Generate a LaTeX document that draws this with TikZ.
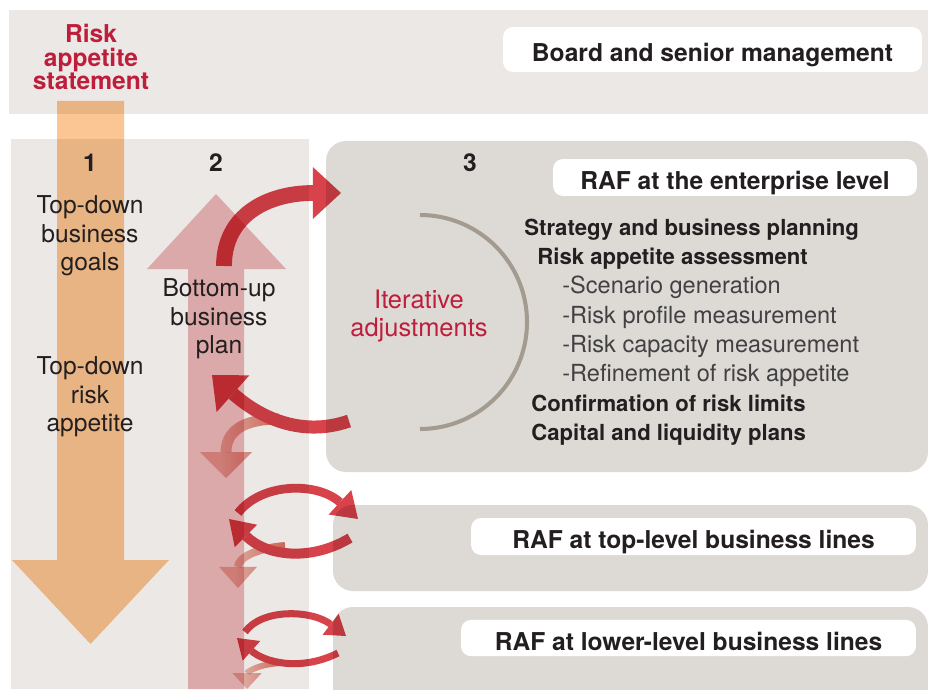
\documentclass[tikz,border=0pt]{standalone}
\usepackage{fontspec}
\setmainfont{TeX Gyre Heros}
\usetikzlibrary{arrows.meta,fadings}

\definecolor{bandgray}{HTML}{ECE8E5}
\definecolor{panelgray}{HTML}{DDDAD6}
\definecolor{ink}{HTML}{231F20}
\definecolor{subink}{HTML}{414042}
\definecolor{crimson}{HTML}{BE1E3C}
\definecolor{topdown}{HTML}{FCC694}
\definecolor{bottomup}{HTML}{EDBABD}
\definecolor{iterred}{HTML}{D8424A}
\definecolor{fadered}{HTML}{DC6A58}
\definecolor{arcgray}{HTML}{A39A90}

\tikzfading[name=fadetip, left color=transparent!55, right color=transparent!0]

\begin{document}
\begin{tikzpicture}[x=0.02cm, y=-0.02cm,
    txt/.style={font=\fontsize{14}{16.2}\selectfont, text=ink, align=center, inner sep=0pt},
    num/.style={font=\fontsize{14}{16}\selectfont\bfseries, text=ink, inner sep=0pt, anchor=base},
    lvl/.style={fill=white, rounded corners=0.2cm, font=\fontsize{14}{16}\selectfont\bfseries, text=ink, text height=14pt, text depth=0pt},
    item/.style={font=\fontsize{12.6}{15}\selectfont\bfseries, text=ink, anchor=base west, inner sep=0pt},
    sub/.style={font=\fontsize{13.4}{15}\selectfont, text=subink, anchor=base west, inner sep=0pt},
    flow/.style n args={3}{draw=iterred, line width=#1, -{Triangle[width=#2, length=#3, line width=0pt]}},
    fade/.style n args={3}{draw=fadered, path fading=fadetip, line width=#1, -{Triangle[width=#2, length=#3, line width=0pt]}}]

    % 背景
    \useasboundingbox (0,0) rectangle (928,689);
    \fill[bandgray] (9,10) rectangle (928,114);
    \fill[bandgray] (11,139) rectangle (309,689);
    \fill[panelgray, rounded corners=0.4cm] (326,141) rectangle (928,472);
    \fill[panelgray, rounded corners=0.4cm] (333,505) rectangle (928,591);
    \fill[panelgray, rounded corners=0.4cm] (333,607) rectangle (928,720);

    % 大箭头
    \begin{scope}[blend mode=multiply]
    \fill[topdown] (57,101) -- (124,101) -- (124,560) -- (169,560) -- (90.5,644) -- (12,560) -- (57,560) -- cycle;
    \fill[bottomup] (188,689) -- (188,269) -- (147,269) -- (216,194) -- (286,269) -- (244,269) -- (244,689) -- cycle;
    \end{scope}

    % 定义节点
    \node[lvl, minimum width=8.38cm, minimum height=0.9cm] (board) at (712.5,49.5) {Board and senior management};
    \node[lvl, minimum width=7.28cm, minimum height=0.74cm] (ent) at (735,177.5) {RAF at the enterprise level};
    \node[lvl, minimum width=8.9cm, minimum height=0.74cm] (top) at (693.5,536.5) {RAF at top-level business lines};
    \node[lvl, minimum width=9.1cm, minimum height=0.72cm] (low) at (688.5,638) {RAF at lower-level business lines};

    \node[txt, font=\fontsize{14}{13.6}\selectfont\bfseries, text=crimson] (ras) at (91,57) {Risk\\appetite\\statement};
    \node[num] (n1) at (90,172) {1};
    \node[num] (n2) at (216,172) {2};
    \node[num] (n3) at (470,172) {3};
    \node[txt] (goals) at (90,236) {Top-down\\business\\goals};
    \node[txt] (appetite) at (90,397) {Top-down\\risk\\appetite};
    \node[txt] (plan) at (219,319) {Bottom-up\\business\\plan};
    \node[txt, font=\fontsize{14.5}{16.4}\selectfont, text=crimson] (iter) at (419,316) {Iterative\\adjustments};

    \node[item] (s1) at (524,235) {Strategy and business planning};
    \node[item] (s2) at (537,264) {Risk appetite assessment};
    \node[sub] (s3) at (562,293) {-Scenario generation};
    \node[sub] (s4) at (562,323) {-Risk profile measurement};
    \node[sub] (s5) at (562,352) {-Risk capacity measurement};
    \node[sub] (s6) at (562,381) {-Refinement of risk appetite};
    \node[item] (s7) at (531,411) {Confirmation of risk limits};
    \node[item] (s8) at (531,440) {Capital and liquidity plans};

    % 半圆
    \draw[arcgray, line width=2.3pt] (420,215) arc[start angle=-90, end angle=90, radius=107];

    % 箭头端点
    \coordinate (a1s) at (224,266);  \coordinate (a1e) at (341,193);
    \coordinate (a2s) at (349,421);  \coordinate (a2e) at (212,375);
    \coordinate (a3s) at (279,419);  \coordinate (a3e) at (226,478);
    \coordinate (a4s) at (238,513);  \coordinate (a4e) at (358,519);
    \coordinate (a5s) at (350,538);  \coordinate (a5e) at (229,519);
    \coordinate (a6s) at (285,546);  \coordinate (a6e) at (238,588);
    \coordinate (a7s) at (245,632);  \coordinate (a7e) at (346,636);
    \coordinate (a8s) at (338,653);  \coordinate (a8e) at (237,638);
    \coordinate (a9s) at (282,663);  \coordinate (a9e) at (247,689);

    % 连接
    \begin{scope}[blend mode=multiply]
    \begin{scope}[transparency group]
    \draw[fade={6.2pt}{29.5pt}{14.7pt}] (a3s) .. controls (242,419) and (226,432) .. (a3e);
    \draw[fade={4.5pt}{21.5pt}{12pt}] (a6s) .. controls (256,548) and (238,558) .. (a6e);
    \draw[fade={3.4pt}{16.5pt}{9pt}] (a9s) .. controls (258,664) and (247,672) .. (a9e);
    \draw[flow={9pt}{29.5pt}{16pt}] (a1s) .. controls (224,215) and (268,193) .. (a1e);
    \draw[flow={7.4pt}{28pt}{16pt}] (a2s) .. controls (300,438) and (258,416) .. (a2e);
    \draw[flow={5pt}{19pt}{14pt}] (a4s) .. controls (262,482) and (318,482) .. (a4e);
    \draw[flow={5.7pt}{18pt}{13.6pt}] (a5s) .. controls (310,562) and (266,556) .. (a5e);
    \draw[flow={4pt}{15pt}{11pt}] (a7s) .. controls (262,608) and (312,610) .. (a7e);
    \draw[flow={4pt}{15pt}{11pt}] (a8s) .. controls (300,672) and (264,662) .. (a8e);
    \end{scope}
    \end{scope}

\end{tikzpicture}
\end{document}
